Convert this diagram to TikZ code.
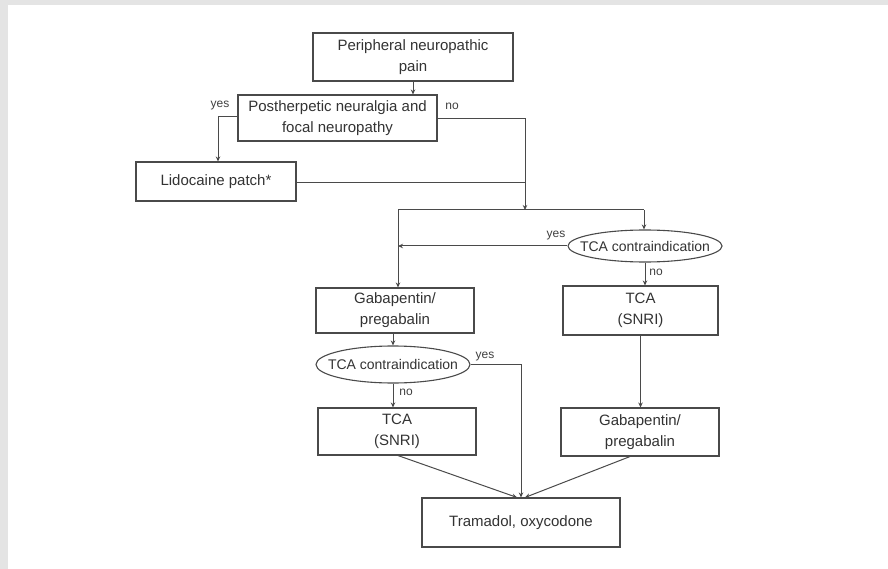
\documentclass[tikz,border=0pt]{standalone}
\usepackage{fontspec}
\setmainfont{Liberation Sans}
\usetikzlibrary{shapes.geometric,arrows.meta}
\definecolor{ln}{HTML}{4A4A4A}
\definecolor{frame}{HTML}{E4E4E4}
\begin{document}
\begin{tikzpicture}[x=1pt,y=-1pt,
  box/.style={draw=ln,line width=1.1pt,align=center,inner sep=0pt,font=\fontsize{15}{21}\selectfont,text=black!80},
  oval/.style={draw=ln,line width=1.1pt,ellipse,inner xsep=-14pt,inner ysep=0pt,font=\fontsize{14}{16}\selectfont,text=black!80},
  conn/.style={draw=ln,line width=1pt},
  arr/.style={conn,-{Stealth[length=5pt,width=4.5pt]}},
  lbl/.style={font=\fontsize{12}{14}\selectfont,text=black!75,inner sep=1pt}]
\fill[frame] (0,0) rectangle (888,569);
\fill[white] (8,5) rectangle (888,569);
\useasboundingbox (0,0) rectangle (888,569);
\node[box,minimum width=200pt,minimum height=48pt] (pnp) at (413,57) {Peripheral neuropathic\\pain};
\node[box,minimum width=199pt,minimum height=46pt] (phn) at (337.5,118) {Postherpetic neuralgia and\\focal neuropathy};
\node[box,minimum width=160pt,minimum height=39pt] (lid) at (216,181.5) {Lidocaine patch*};
\node[oval,minimum width=154pt,minimum height=32pt] (tc1) at (645,246) {TCA contraindication};
\node[box,minimum width=158pt,minimum height=45pt] (gab1) at (395,310.5) {Gabapentin/\\pregabalin};
\node[box,minimum width=155pt,minimum height=49pt] (tca1) at (640.5,310.5) {TCA\\(SNRI)};
\node[oval,minimum width=154pt,minimum height=37pt] (tc2) at (393,364.5) {TCA contraindication};
\node[box,minimum width=158pt,minimum height=47pt] (tca2) at (397,431.5) {TCA\\(SNRI)};
\node[box,minimum width=158pt,minimum height=48pt] (gab2) at (640,432) {Gabapentin/\\pregabalin};
\node[box,minimum width=198pt,minimum height=49pt] (tra) at (521,522.5) {Tramadol, oxycodone};
\coordinate (j1) at (525,183);
\coordinate (j2) at (525,210);
\coordinate (jl) at (398,210);
\coordinate (jr) at (644,210);
\coordinate (jy) at (398,246);
% connectors
\draw[arr] (pnp.south) -- (pnp.south |- phn.north);
\draw[arr] (phn.west |- 0,117) -- (218,117) -- (218,0 |- lid.north);
\draw[conn] (phn.east |- 0,119) -- (525,119) -- (j1);
\draw[conn] (lid.east |- j1) -- (j1);
\draw[arr] (j1) -- (j2);
\draw[conn] (jl) -- (jr);
\draw[arr] (jr) -- (jr |- tc1.north);
\draw[arr] (jl) -- (jl |- gab1.north);
\draw[arr] (tc1.west) -- (jy);
\draw[arr] (tc1.south) -- (tc1.south |- tca1.north);
\draw[arr] (tc2.north |- gab1.south) -- (tc2.north);
\draw[arr] (tc2.east) -- (521,0 |- tc2.east) -- (521,0 |- tra.north);
\draw[arr] (tc2.south) -- (tc2.south |- tca2.north);
\draw[arr] (tca1.south) -- (tca1.south |- gab2.north);
\draw[arr] (398,0 |- tca2.south) -- (517,0 |- tra.north);
\draw[arr] (630,0 |- gab2.south) -- (525,0 |- tra.north);
% labels
\node[lbl] (l1) at (220,106) {yes};
\node[lbl] (l2) at (452,106) {no};
\node[lbl] (l3) at (556,236) {yes};
\node[lbl] (l4) at (656,272) {no};
\node[lbl] (l5) at (485,357) {yes};
\node[lbl] (l6) at (406,392) {no};
\end{tikzpicture}
\end{document}
